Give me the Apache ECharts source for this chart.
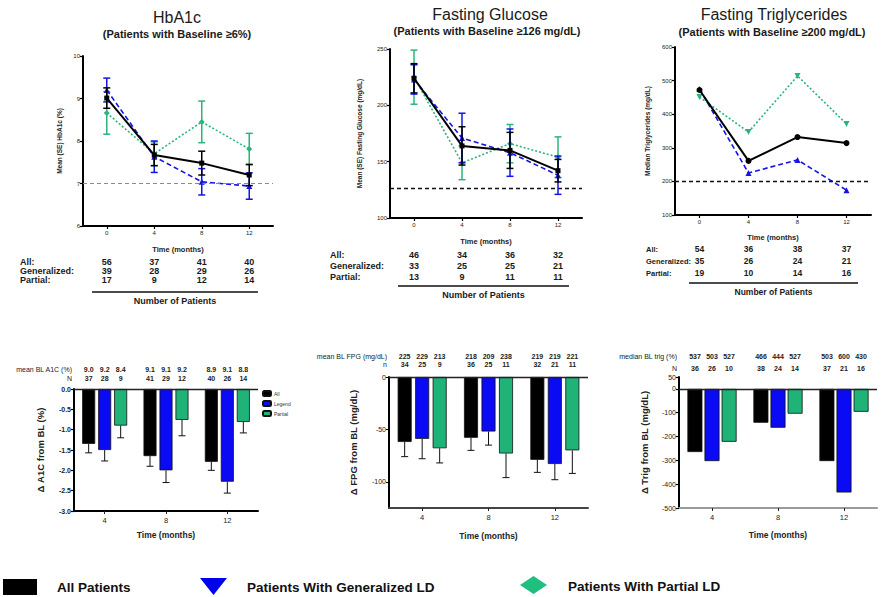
<!DOCTYPE html>
<html>
<head>
<meta charset="utf-8">
<script src="https://cdn.jsdelivr.net/npm/echarts@6/dist/echarts.min.js"></script>
<style>
  html, body { margin: 0; padding: 0; background: #fff; }
  #chart { width: 885px; height: 597px; }
</style>
</head>
<body>
<div id="chart"></div>
<script>
// ---- time points (months) ----
const months = ['0', '4', '8', '12'];
const visits = ['4', '8', '12'];

// ---- HbA1c, mean (SE), % ----
const a1cAll = [9.01, 7.67, 7.48, 7.20];
const a1cAllSE = [0.24, 0.25, 0.28, 0.25];
const a1cGen = [9.20, 7.63, 7.04, 6.94];
const a1cGenSE = [0.28, 0.37, 0.31, 0.31];
const a1cPar = [8.66, 7.70, 8.45, 7.81];
const a1cParSE = [0.50, 0.28, 0.49, 0.37];

// ---- Fasting glucose, mean (SE), mg/dL ----
const fgAll = [224, 164, 160, 142];
const fgAllSE = [13, 17, 16, 10];
const fgGen = [223, 171, 158, 138];
const fgGenSE = [13, 22, 21, 17];
const fgPar = [225, 149, 166, 154];
const fgParSE = [24, 15, 17, 18];

// ---- Fasting triglycerides, median, mg/dL ----
const tgAll = [472, 261, 332, 314];
const tgGen = [475, 225, 264, 174];
const tgPar = [451, 347, 514, 371];

// ---- number of patients per time point ----
const nA1c = { all: [56, 37, 41, 40], gen: [39, 28, 29, 26], par: [17, 9, 12, 14] };
const nFg = { all: [46, 34, 36, 32], gen: [33, 25, 25, 21], par: [13, 9, 11, 11] };
const nTg = { all: [54, 36, 38, 37], gen: [35, 26, 24, 21], par: [19, 10, 14, 16] };

// ---- change from baseline (bars) ----
const dA1cAll = [-1.35, -1.65, -1.79];
const dA1cAllSE = [0.22, 0.25, 0.21];
const dA1cGen = [-1.50, -2.00, -2.28];
const dA1cGenSE = [0.27, 0.30, 0.28];
const dA1cPar = [-0.90, -0.76, -0.81];
const dA1cParSE = [0.30, 0.39, 0.27];

const dFpgAll = [-62, -58, -79];
const dFpgAllSE = [14, 12, 12];
const dFpgGen = [-59, -52, -83];
const dFpgGenSE = [19, 13, 15];
const dFpgPar = [-68, -73, -70];
const dFpgParSE = [14, 23, 22];

const dTgAll = [-265, -142, -303];
const dTgGen = [-303, -163, -435];
const dTgPar = [-222, -104, -96];

// ---- baseline values and n shown above the bars (All, Generalized, Partial) ----
const a1cBL = [['9.0', '9.2', '8.4'], ['9.1', '9.1', '9.2'], ['8.9', '9.1', '8.8']];
const a1cN = [[37, 28, 9], [41, 29, 12], [40, 26, 14]];
const fpgBL = [[225, 229, 213], [218, 209, 238], [219, 219, 221]];
const fpgN = [[34, 25, 9], [36, 25, 11], [32, 21, 11]];
const tgBL = [[537, 503, 527], [466, 444, 527], [503, 600, 430]];
const tgN = [[36, 26, 10], [38, 24, 14], [37, 21, 16]];

// ---- styling ----
const FONT = '"Liberation Sans", Arial, sans-serif';
const BLACK = '#000000';
const BLUE = '#1414e6';
const GREEN = '#2db47c';
const BAR_BLUE = '#0a0af5';
const BAR_GREEN = '#1fb378';

const chart = echarts.init(document.getElementById('chart'), null, { renderer: 'svg' });

// grids: 0-2 line charts, 3-5 bar charts
const grids = [
  { left: 83, top: 56, width: 190, height: 170 },
  { left: 390, top: 49, width: 192, height: 169 },
  { left: 675, top: 47, width: 196, height: 168 },
  { left: 74, top: 389, width: 184, height: 122 },
  { left: 389, top: 377, width: 199, height: 131 },
  { left: 679, top: 377, width: 198, height: 131 }
];

// bar layout per bar chart: width and centre-to-centre pitch
const barLayout = [
  { width: 13, gap: '23%', pitch: 16 },
  { width: 14, gap: '25%', pitch: 17.5 },
  { width: 15, gap: '14%', pitch: 17 }
];

function timeAxis(g, nameGap) {
  return {
    type: 'category', gridIndex: g, data: months, boundaryGap: true,
    name: 'Time (months)', nameLocation: 'middle', nameGap: nameGap,
    nameTextStyle: { fontFamily: FONT, fontSize: 7.5, fontWeight: 'bold', color: '#222' },
    axisLine: { show: true, onZero: false, lineStyle: { color: BLACK, width: 2 } },
    axisTick: { show: true, alignWithLabel: true, length: 3, lineStyle: { color: BLACK, width: 1.2 } },
    axisLabel: { fontFamily: FONT, fontSize: 6, color: '#222', margin: 4 },
    splitLine: { show: false }
  };
}
function valueAxis(g, min, max, interval, name, nameGap, extra) {
  const ax = {
    type: 'value', gridIndex: g, min: min, max: max, interval: interval,
    name: name, nameLocation: 'middle', nameGap: nameGap,
    nameTextStyle: { fontFamily: FONT, fontSize: 6.5, fontWeight: 'bold', color: '#222' },
    axisLine: { show: true, onZero: false, lineStyle: { color: BLACK, width: 2 } },
    axisTick: { show: true, length: 3, lineStyle: { color: BLACK, width: 1.2 } },
    axisLabel: { fontFamily: FONT, fontSize: 6, color: '#222', margin: 3 },
    splitLine: { show: false }
  };
  return Object.assign(ax, extra || {});
}
function visitAxis(g, lineColor, nameGap) {
  return {
    type: 'category', gridIndex: g, data: visits,
    name: 'Time (months)', nameLocation: 'middle', nameGap: nameGap,
    nameTextStyle: { fontFamily: FONT, fontSize: 8.5, fontWeight: 'bold', color: '#222' },
    axisLine: { show: true, onZero: false, lineStyle: { color: lineColor, width: 2 } },
    axisTick: { show: true, alignWithLabel: true, length: 3, lineStyle: { color: '#222' } },
    axisLabel: { fontFamily: FONT, fontSize: 7.5, color: '#222', margin: 5 },
    splitLine: { show: false }
  };
}

function lineSeries(name, vals, g, color, lineType, symbol, size, width, z) {
  return {
    type: 'line', name: name, xAxisIndex: g, yAxisIndex: g, z: z,
    data: vals,
    symbol: symbol, symbolSize: size,
    itemStyle: { color: color },
    lineStyle: { color: color, width: width, type: lineType },
    emphasis: { disabled: true }, animation: false
  };
}

function errSeries(name, vals, se, g, color, z) {
  return {
    type: 'custom', name: name, xAxisIndex: g, yAxisIndex: g, z: z,
    data: vals.map((v, i) => [i, v - se[i], v + se[i]]),
    itemStyle: { color: color },
    renderItem: function (params, api) {
      const lo = api.coord([api.value(0), api.value(1)]);
      const hi = api.coord([api.value(0), api.value(2)]);
      const c = api.visual('color');
      const w = 3.5;
      const st = { stroke: c, lineWidth: 1.5 };
      return {
        type: 'group', children: [
          { type: 'line', shape: { x1: lo[0], y1: lo[1], x2: hi[0], y2: hi[1] }, style: st },
          { type: 'line', shape: { x1: lo[0] - w, y1: lo[1], x2: lo[0] + w, y2: lo[1] }, style: st },
          { type: 'line', shape: { x1: hi[0] - w, y1: hi[1], x2: hi[0] + w, y2: hi[1] }, style: st }
        ]
      };
    },
    animation: false
  };
}

function barSeries(name, vals, g, color) {
  const lay = barLayout[g - 3];
  return {
    type: 'bar', name: name, xAxisIndex: g, yAxisIndex: g,
    data: vals, barWidth: lay.width, barGap: lay.gap,
    itemStyle: { color: color, borderColor: '#111', borderWidth: 0.8 },
    emphasis: { disabled: true }, animation: false
  };
}

function barErr(vals, se, g, k) {
  const lay = barLayout[g - 3];
  const offset = (k - 1) * lay.pitch;
  return {
    type: 'custom', xAxisIndex: g, yAxisIndex: g, z: 5,
    data: vals.map((v, i) => [i, v, v - se[i]]),
    renderItem: function (params, api) {
      const a = api.coord([api.value(0), api.value(1)]);
      const b = api.coord([api.value(0), api.value(2)]);
      const x = a[0] + offset;
      const st = { stroke: '#111', lineWidth: 1 };
      return {
        type: 'group', children: [
          { type: 'line', shape: { x1: x, y1: a[1], x2: x, y2: b[1] }, style: st },
          { type: 'line', shape: { x1: x - 3.5, y1: b[1], x2: x + 3.5, y2: b[1] }, style: st }
        ]
      };
    },
    animation: false
  };
}

function refLine(value, color, width) {
  return {
    silent: true, symbol: 'none', label: { show: false },
    lineStyle: { color: color, width: width, type: [4, 3] },
    emphasis: { disabled: true },
    data: [{ yAxis: value }], animation: false
  };
}
function zeroLine(color) {
  return {
    silent: true, symbol: 'none', label: { show: false },
    lineStyle: { color: color, width: 1.3, type: 'solid' },
    emphasis: { disabled: true },
    data: [{ yAxis: 0 }], animation: false
  };
}

const titleText = (text, x, y, size, weight) => ({
  text: text, left: x, top: y, textAlign: 'center', padding: 0,
  textStyle: { fontFamily: FONT, fontSize: size, fontWeight: weight, color: '#1a1a1a' }
});

// line series, drawn partial → generalized → all so the black line sits on top
const a1cParLine = lineSeries('HbA1c Partial', a1cPar, 0, GREEN, [2, 2], 'diamond', 6, 1.6, 2);
a1cParLine.markLine = refLine(7, '#8a8a8a', 1);
const fgParLine = lineSeries('FG Partial', fgPar, 1, GREEN, [2, 2], 'diamond', 6, 1.6, 2);
fgParLine.markLine = refLine(126, '#111', 1.4);
const tgParLine = lineSeries('TG Partial', tgPar, 2, GREEN, [2, 2], 'triangle', 6, 1.6, 2);
tgParLine.symbolRotate = 180;
tgParLine.markLine = refLine(200, '#111', 1.4);

const a1cAllBar = barSeries('All', dA1cAll, 3, '#000');
a1cAllBar.markLine = zeroLine('#222');
const fpgAllBar = barSeries('FPG All', dFpgAll, 4, '#000');
fpgAllBar.markLine = zeroLine('#222');
const tgAllBar = barSeries('TG All', dTgAll, 5, '#000');
tgAllBar.markLine = zeroLine('#222');

const option = {
  backgroundColor: '#ffffff',
  animation: false,
  title: [
    titleText('HbA1c', 177, 9, 16, 'normal'),
    titleText('(Patients with Baseline \u22656%)', 177, 28, 11, 'bold'),
    titleText('Fasting Glucose', 490, 6, 16, 'normal'),
    titleText('(Patients with Baseline \u2265126 mg/dL)', 487, 25, 11, 'bold'),
    titleText('Fasting Triglycerides', 774, 6, 16, 'normal'),
    titleText('(Patients with Baseline \u2265200 mg/dL)', 772, 26, 11, 'bold')
  ],
  legend: {
    data: ['All', 'Legend', 'Partial'],
    orient: 'vertical', left: 262, top: 390,
    itemWidth: 8, itemHeight: 5, itemGap: 3, padding: 0,
    selectedMode: false,
    textStyle: { fontFamily: FONT, fontSize: 5, color: '#333', padding: [0, 0, 0, -2] }
  },
  grid: grids,
  xAxis: [
    timeAxis(0, 19),
    timeAxis(1, 19),
    timeAxis(2, 18),
    visitAxis(3, '#000', 19),
    visitAxis(4, '#444', 23),
    visitAxis(5, '#9a9a9a', 22)
  ],
  yAxis: [
    valueAxis(0, 6, 10, 1, 'Mean (SE) HbA1c (%)', 20),
    valueAxis(1, 100, 250, 50, 'Mean (SE) Fasting Glucose (mg/dL)', 27),
    valueAxis(2, 100, 600, 100, 'Median Triglycerides (mg/dL)', 24),
    valueAxis(3, -3, 0, 0.5, '\u0394 A1C from BL (%)', 29, {
      axisLabel: { fontFamily: FONT, fontSize: 7, fontWeight: 'bold', color: '#222', margin: 3,
        formatter: v => v.toFixed(1) },
      nameTextStyle: { fontFamily: FONT, fontSize: 9.5, fontWeight: 'bold', color: '#222' }
    }),
    valueAxis(4, -125, 0, null, '\u0394 FPG from BL (mg/dL)', 31, {
      axisLabel: { fontFamily: FONT, fontSize: 7, color: '#222', margin: 3, customValues: [0, -50, -100] },
      axisTick: { show: true, length: 3, customValues: [0, -50, -100], lineStyle: { color: BLACK } },
      nameTextStyle: { fontFamily: FONT, fontSize: 9.5, fontWeight: 'bold', color: '#222' }
    }),
    valueAxis(5, -500, 50, 100, '\u0394 Trig from BL (mg/dL)', 30, {
      axisLabel: { fontFamily: FONT, fontSize: 7, color: '#222', margin: 3 },
      nameTextStyle: { fontFamily: FONT, fontSize: 9.5, fontWeight: 'bold', color: '#222' }
    })
  ],
  series: [
    // HbA1c
    a1cParLine,
    errSeries('HbA1c Partial SE', a1cPar, a1cParSE, 0, GREEN, 3),
    lineSeries('HbA1c Generalized', a1cGen, 0, BLUE, [5, 3], 'triangle', 6, 1.6, 4),
    errSeries('HbA1c Generalized SE', a1cGen, a1cGenSE, 0, BLUE, 5),
    lineSeries('HbA1c All', a1cAll, 0, BLACK, 'solid', 'rect', 5, 2, 6),
    errSeries('HbA1c All SE', a1cAll, a1cAllSE, 0, BLACK, 7),
    // Fasting glucose
    fgParLine,
    errSeries('FG Partial SE', fgPar, fgParSE, 1, GREEN, 3),
    lineSeries('FG Generalized', fgGen, 1, BLUE, [5, 3], 'triangle', 6, 1.6, 4),
    errSeries('FG Generalized SE', fgGen, fgGenSE, 1, BLUE, 5),
    lineSeries('FG All', fgAll, 1, BLACK, 'solid', 'rect', 5, 2, 6),
    errSeries('FG All SE', fgAll, fgAllSE, 1, BLACK, 7),
    // Triglycerides (medians)
    tgParLine,
    lineSeries('TG Generalized', tgGen, 2, BLUE, [5, 3], 'triangle', 6, 1.6, 4),
    lineSeries('TG All', tgAll, 2, BLACK, 'solid', 'circle', 6, 2, 6),
    // Δ A1C bars
    a1cAllBar,
    barSeries('Legend', dA1cGen, 3, BAR_BLUE),
    barSeries('Partial', dA1cPar, 3, BAR_GREEN),
    barErr(dA1cAll, dA1cAllSE, 3, 0),
    barErr(dA1cGen, dA1cGenSE, 3, 1),
    barErr(dA1cPar, dA1cParSE, 3, 2),
    // Δ FPG bars
    fpgAllBar,
    barSeries('FPG Generalized', dFpgGen, 4, BAR_BLUE),
    barSeries('FPG Partial', dFpgPar, 4, BAR_GREEN),
    barErr(dFpgAll, dFpgAllSE, 4, 0),
    barErr(dFpgGen, dFpgGenSE, 4, 1),
    barErr(dFpgPar, dFpgParSE, 4, 2),
    // Δ Trig bars
    tgAllBar,
    barSeries('TG Generalized bar', dTgGen, 5, BAR_BLUE),
    barSeries('TG Partial bar', dTgPar, 5, BAR_GREEN)
  ]
};

chart.setOption(option);

// ---- text tables and legend placed from the axes' own scales ----
const graphics = [];
function txt(text, x, y, font, align, fill) {
  graphics.push({
    type: 'text', x: x, y: y, silent: true,
    style: { text: String(text), font: font, align: align || 'center', verticalAlign: 'middle', fill: fill || '#1a1a1a' }
  });
}
function hline(x1, x2, y, color, w) {
  graphics.push({
    type: 'line', silent: true,
    shape: { x1: x1, y1: y, x2: x2, y2: y },
    style: { stroke: color || '#111', lineWidth: w || 1.3 }
  });
}

// patient count tables under the line charts
function countTable(g, counts, labelX, rows, lineY, lineX1, lineX2, noteY, labelFont, numFont) {
  const labels = ['All:', 'Generalized:', 'Partial:'];
  const keys = ['all', 'gen', 'par'];
  labels.forEach((lab, r) => {
    txt(lab, labelX, rows[r], labelFont, 'left');
    months.forEach((m, i) => {
      const x = chart.convertToPixel({ gridIndex: g }, [i, 0])[0];
      txt(counts[keys[r]][i], x, rows[r], numFont, 'center');
    });
  });
  hline(lineX1, lineX2, lineY, '#111', 1.3);
  const mid = (lineX1 + lineX2) / 2;
  txt('Number of Patients', mid, noteY, numFont, 'center');
}
countTable(0, nA1c, 20, [262, 271, 280], 292, 92, 258, 301, 'bold 9px ' + FONT, 'bold 9px ' + FONT);
countTable(1, nFg, 330, [255, 266, 277], 286, 398, 569, 295, 'bold 9px ' + FONT, 'bold 9px ' + FONT);
countTable(2, nTg, 646, [249, 261, 273], 283, 689, 858, 292, 'bold 7.5px ' + FONT, 'bold 8.5px ' + FONT);

// baseline values and n above the bar charts
const HEAD_FONT = '7px ' + FONT;
function barHeader(g, title, nLabel, bl, n, y1, y2) {
  const lay = barLayout[g - 3];
  const left = grids[g].left - 2;
  txt(title, left, y1, HEAD_FONT, 'right', '#222');
  txt(nLabel, left, y2, HEAD_FONT, 'right', '#222');
  visits.forEach((v, i) => {
    const cx = chart.convertToPixel({ gridIndex: g }, [i, 0])[0];
    for (let k = 0; k < 3; k++) {
      const x = cx + (k - 1) * lay.pitch;
      txt(bl[i][k], x, y1, 'bold 7px ' + FONT, 'center', '#222');
      txt(n[i][k], x, y2, 'bold 7px ' + FONT, 'center', '#222');
    }
  });
}
barHeader(3, 'mean BL A1C (%)', 'N', a1cBL, a1cN, 369, 378);
barHeader(4, 'mean BL FPG (mg/dL)', 'n', fpgBL, fpgN, 356, 364);
barHeader(5, 'median BL trig (%)', 'N', tgBL, tgN, 356, 368);

// group legend along the bottom
const LEG_FONT = 'bold 13.5px ' + FONT;
graphics.push({ type: 'rect', silent: true, shape: { x: 3, y: 579, width: 34, height: 16 }, style: { fill: '#000' } });
txt('All Patients', 57, 587, LEG_FONT, 'left', '#111');
graphics.push({ type: 'polygon', silent: true, shape: { points: [[200, 578], [227, 578], [213.5, 595]] }, style: { fill: '#0000ee' } });
txt('Patients With Generalized LD', 247, 587, LEG_FONT, 'left', '#111');
graphics.push({ type: 'polygon', silent: true, shape: { points: [[520, 585], [533.5, 576], [547, 585], [533.5, 594]] }, style: { fill: '#1fbf80' } });
txt('Patients With Partial LD', 568, 586, LEG_FONT, 'left', '#111');

chart.setOption({ graphic: { elements: graphics } });
</script>
</body>
</html>
